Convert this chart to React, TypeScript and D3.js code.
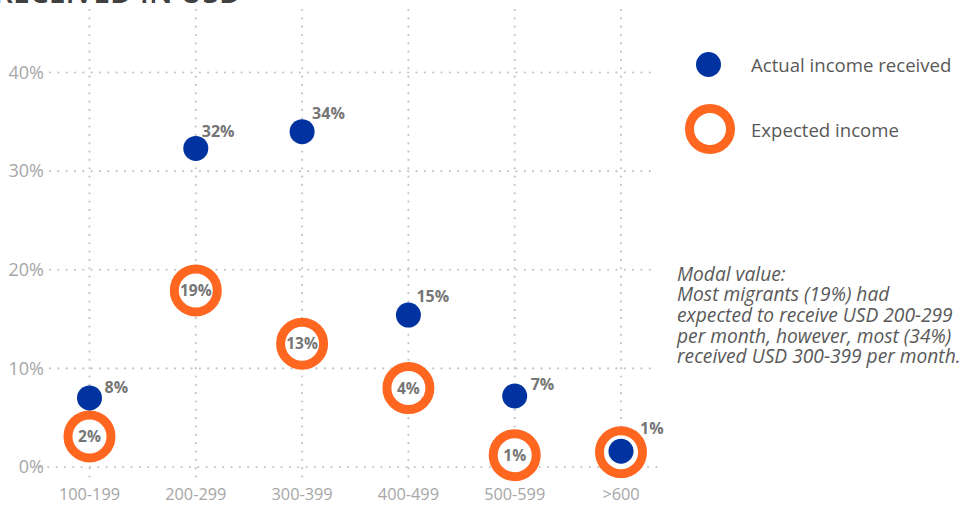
import React from 'react';
import * as d3 from 'd3';

const categories = ['100-199', '200-299', '300-399', '400-499', '500-599', '>600'];
const actualValues = [7.0, 32.3, 34.0, 15.4, 7.2, 1.6];
const actualLabels = ['8%', '32%', '34%', '15%', '7%', '1%'];
const expectedValues = [3.1, 17.9, 12.5, 8.0, 1.2, 1.5];
const expectedLabels = ['2%', '19%', '13%', '4%', '1%', ''];
const yTicks = [0, 10, 20, 30, 40];
const legendItems = ['Actual income received', 'Expected income'];
const noteLines = [
  'Modal value:',
  'Most migrants (19%) had',
  'expected to receive USD 200-299',
  'per month, however, most (34%)',
  'received USD 300-399 per month.',
];
const titleText = 'INCOME RECEIVED IN USD';

// label layout offsets (dx, dy) for actual-value labels
const actualLabelOffsets: [number, number][] = [[15, -11], [6, -17], [10, -18], [8, -19], [16, -12], [19, -23]];

const W = 964;
const H = 505;
const BLUE = '#0033a0';
const ORANGE = '#ff6720';
const GRID = '#c4c4c4';
const FONT = '"Open Sans", sans-serif';

export default function App() {
  const x = d3.scalePoint<string>().domain(categories).range([89.5, 621]);
  const y = d3.scaleLinear().domain([0, 40]).range([467, 72.5]);
  const dot = '0 8.33';

  return (
    <svg width={W} height={H} style={{ position: 'absolute', left: 0, top: 0, background: '#fff' }} fontFamily={FONT}>
      <text x={241} y={2.5} textAnchor="end" fontSize={30} fontWeight={600} fill="#404040">{titleText}</text>

      {/* horizontal gridlines */}
      {yTicks.map((t) => (
        <g key={'h' + t}>
          <line x1={t === 0 ? 40 : 50} x2={658} y1={y(t)} y2={y(t)} stroke={GRID} strokeWidth={2.2}
            strokeLinecap="round" strokeDasharray={dot} />
          <text x={44} y={y(t)} dy="0.35em" textAnchor="end" fontSize={18} fill="#a6a6a6">{t}%</text>
        </g>
      ))}

      {/* vertical gridlines */}
      {categories.map((c) => (
        <g key={'v' + c}>
          <line x1={x(c)} x2={x(c)} y1={10} y2={479} stroke={GRID} strokeWidth={2.2}
            strokeLinecap="round" strokeDasharray={dot} />
          <text x={x(c)} y={494} dy="0.35em" textAnchor="middle" fontSize={16.3} fill="#a6a6a6">{c}</text>
        </g>
      ))}

      {/* expected rings */}
      {categories.map((c, i) => (
        <circle key={'e' + c} cx={x(c)} cy={y(expectedValues[i])} r={21.5} fill="#fff" stroke={ORANGE} strokeWidth={9} />
      ))}
      {categories.map((c, i) => (
        <text key={'el' + c} x={x(c)} y={y(expectedValues[i])} dy="0.35em" textAnchor="middle"
          fontSize={15.5} fontWeight="bold" fill="#767676">{expectedLabels[i]}</text>
      ))}

      {/* actual dots */}
      {categories.map((c, i) => (
        <circle key={'a' + c} cx={x(c)} cy={y(actualValues[i])} r={12.5} fill={BLUE} />
      ))}
      {categories.map((c, i) => (
        <text key={'al' + c} x={(x(c) as number) + actualLabelOffsets[i][0]} y={y(actualValues[i]) + actualLabelOffsets[i][1]}
          dy="0.35em" fontSize={16} fontWeight="bold" fill="#767676">{actualLabels[i]}</text>
      ))}

      {/* legend */}
      <circle cx={708.5} cy={64.5} r={12.5} fill={BLUE} />
      <text x={751} y={65} dy="0.35em" fontSize={18.6} fill="#595959">{legendItems[0]}</text>
      <circle cx={710} cy={129} r={20.5} fill="#fff" stroke={ORANGE} strokeWidth={9} />
      <text x={751} y={130} dy="0.35em" fontSize={18.6} fill="#595959">{legendItems[1]}</text>

      {/* note */}
      <text x={677} y={280.5} fontSize={19.2} fontStyle="italic" fill="#595959">
        {noteLines.map((l, i) => (
          <tspan key={'n' + i} x={677} dy={i === 0 ? 0 : 20.7}>{l}</tspan>
        ))}
      </text>
    </svg>
  );
}
